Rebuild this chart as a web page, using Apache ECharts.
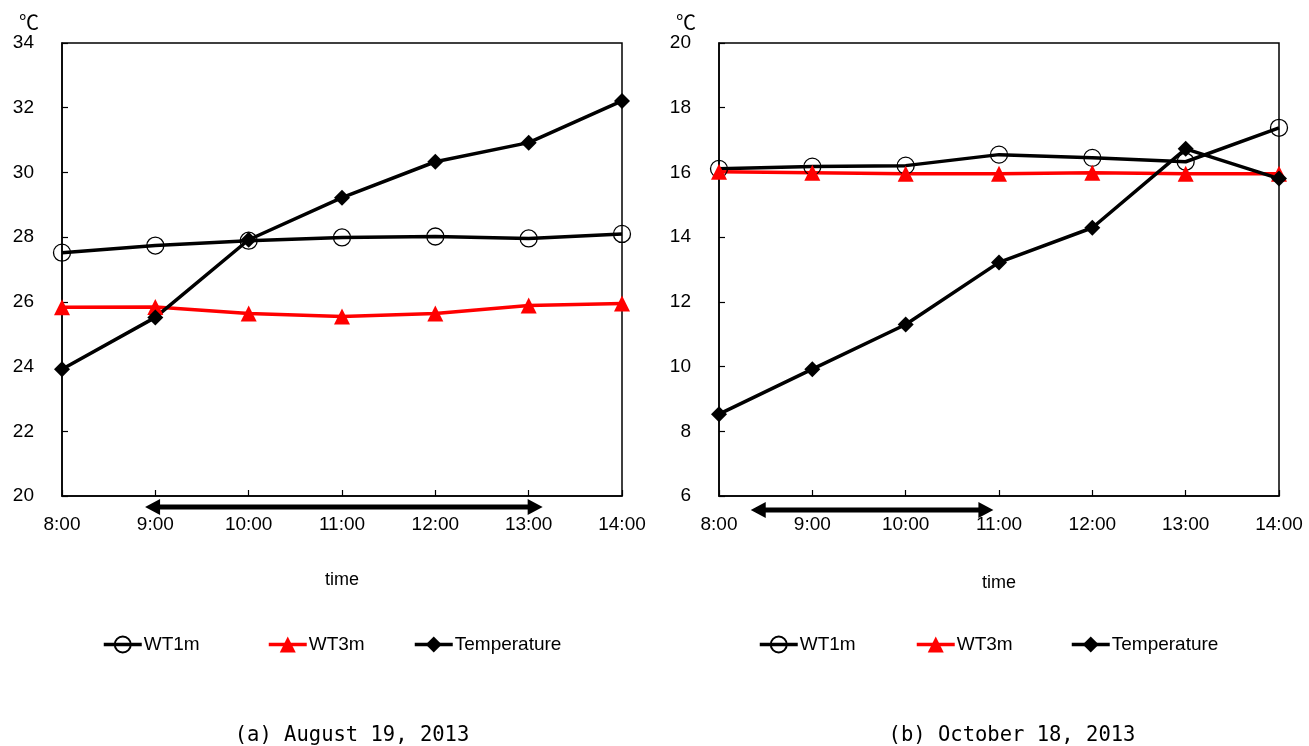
<!DOCTYPE html>
<html><head><meta charset="utf-8">
<script src="https://cdn.jsdelivr.net/npm/echarts@6/dist/echarts.min.js"></script>
<style>html,body{margin:0;padding:0;background:#fff}#c{width:1309px;height:746px}</style>
</head><body><div id="c"></div>
<script>
const times = ['8:00','9:00','10:00','11:00','12:00','13:00','14:00'];
const augWT1m = [27.52, 27.74, 27.89, 27.99, 28.02, 27.96, 28.10];
const augWT3m = [25.83, 25.84, 25.64, 25.55, 25.64, 25.89, 25.95];
const augTemp = [23.92, 25.52, 27.92, 29.22, 30.33, 30.92, 32.21];
const octWT1m = [16.11, 16.18, 16.21, 16.55, 16.45, 16.33, 17.38];
const octWT3m = [16.02, 15.99, 15.96, 15.96, 15.99, 15.96, 15.96];
const octTemp = [8.53, 9.92, 11.30, 13.22, 14.29, 16.73, 15.81];
const augTicks = {min: 20, max: 34, interval: 2};
const octTicks = {min: 6, max: 20, interval: 2};
const augArrow = [0.89, 5.15];
const octArrow = [0.34, 2.94];
const seriesNames = ['WT1m', 'WT3m', 'Temperature'];
const captions = ['(a) August 19, 2013', '(b) October 18, 2013'];
const unitLabel = '℃';
const axisName = 'time';

const FONT = '"Liberation Sans", Arial, sans-serif';
const styles = {
  WT1m: {symbol: 'circle', symbolSize: 17, itemStyle: {color: 'rgba(255,255,255,0)', borderColor: '#000', borderWidth: 1.3}, lineStyle: {color: '#000', width: 3.5}},
  WT3m: {symbol: 'triangle', symbolSize: 16, itemStyle: {color: '#ff0000'}, lineStyle: {color: '#ff0000', width: 3.5}},
  Temperature: {symbol: 'diamond', symbolSize: 16, itemStyle: {color: '#000'}, lineStyle: {color: '#000', width: 3.5}}
};
function pairs(arr) { return arr.map((v, i) => [i, v]); }
function mkSeries(name, arr, gi) {
  const s = styles[name];
  return {name: name, type: 'line', xAxisIndex: gi, yAxisIndex: gi, data: pairs(arr),
    symbol: s.symbol, symbolSize: s.symbolSize, itemStyle: s.itemStyle, lineStyle: s.lineStyle,
    showAllSymbol: true, z: 3};
}
function mkX(gi, gap) {
  return {type: 'value', gridIndex: gi, min: 0, max: times.length - 1, interval: 1,
    name: axisName, nameLocation: 'middle', nameGap: gap,
    nameTextStyle: {fontFamily: FONT, fontSize: 18, color: '#000'},
    axisLine: {show: true, lineStyle: {color: '#000', width: 1.5}},
    axisTick: {show: true, inside: true, length: 6, lineStyle: {color: '#000', width: 1.2}},
    axisLabel: {formatter: v => times[v], fontFamily: FONT, fontSize: 19, color: '#000', margin: 19},
    splitLine: {show: false}};
}
function mkY(gi, t) {
  return {type: 'value', gridIndex: gi, min: t.min, max: t.max, interval: t.interval,
    axisLine: {show: true, lineStyle: {color: '#000', width: 1.5}},
    axisTick: {show: true, inside: true, length: 6, lineStyle: {color: '#000', width: 1.2}},
    axisLabel: {fontFamily: FONT, fontSize: 19, color: '#000', margin: 28},
    splitLine: {show: false}};
}
const legendLefts = [[97, 262, 408], [753, 910, 1065]];
const legends = [];
legendLefts.forEach(row => row.forEach((l, k) => legends.push({
  left: l, top: 630, data: [seriesNames[k]], selectedMode: false,
  itemWidth: 38, itemHeight: 20, itemGap: 0,
  lineStyle: {width: 3.5},
  textStyle: {fontFamily: FONT, fontSize: 19, color: '#000', padding: [0, 0, 0, -3]}
})));

const chart = echarts.init(document.getElementById('c'), null, {renderer: 'canvas'});
chart.setOption({
  animation: false,
  backgroundColor: '#fff',
  grid: [
    {left: 62, right: 687, top: 43, bottom: 250, show: true, borderColor: '#000', borderWidth: 1.5},
    {left: 719, right: 30, top: 43, bottom: 250, show: true, borderColor: '#000', borderWidth: 1.5}
  ],
  xAxis: [mkX(0, 75), mkX(1, 78)],
  yAxis: [mkY(0, augTicks), mkY(1, octTicks)],
  legend: legends,
  series: [
    mkSeries('WT1m', augWT1m, 0), mkSeries('WT3m', augWT3m, 0), mkSeries('Temperature', augTemp, 0),
    mkSeries('WT1m', octWT1m, 1), mkSeries('WT3m', octWT3m, 1), mkSeries('Temperature', octTemp, 1)
  ]
});

function arrowShape(xl, xr, y) {
  const h = 15, hh = 8, sh = 2.5;
  return [[xl, y], [xl + h, y - hh], [xl + h, y - sh], [xr - h, y - sh], [xr - h, y - hh], [xr, y],
          [xr - h, y + hh], [xr - h, y + sh], [xl + h, y + sh], [xl + h, y + hh]];
}
const graphics = [];
[[augArrow, augTicks, 11], [octArrow, octTicks, 14]].forEach(([ar, t, off], gi) => {
  const a = chart.convertToPixel({gridIndex: gi}, [ar[0], t.min]);
  const b = chart.convertToPixel({gridIndex: gi}, [ar[1], t.min]);
  graphics.push({type: 'polygon', shape: {points: arrowShape(a[0], b[0], a[1] + off)}, style: {fill: '#000'}, z: 10});
  const top = chart.convertToPixel({gridIndex: gi}, [0, t.max]);
  graphics.push({type: 'text', x: top[0] - 33, y: top[1] - 21,
    style: {text: unitLabel, font: '20px "Noto Sans CJK JP", ' + FONT, fill: '#000', textAlign: 'center', textVerticalAlign: 'middle'}});
});
const capFont = '20.5px "DejaVu Sans Mono", "Liberation Mono", monospace';
graphics.push({type: 'text', x: 352, y: 736, style: {text: captions[0], font: capFont, fill: '#000', textAlign: 'center', textVerticalAlign: 'middle'}});
graphics.push({type: 'text', x: 1012, y: 736, style: {text: captions[1], font: capFont, fill: '#000', textAlign: 'center', textVerticalAlign: 'middle'}});
chart.setOption({graphic: graphics});
</script>
</body></html>
